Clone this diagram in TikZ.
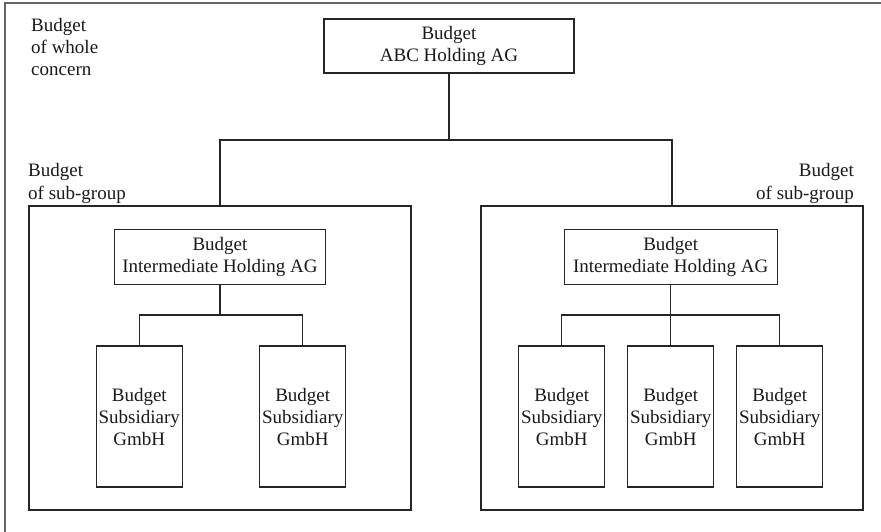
\documentclass[tikz,border=0pt]{standalone}
\usepackage{fontspec}
\setmainfont{Liberation Serif}
\begin{document}
\begin{tikzpicture}[x=1pt,y=-1pt,
  every node/.style={font=\fontsize{19}{22}\selectfont, text=black!90},
  ln/.style={draw=black!85, line width=1.1pt},
  box/.style={ln, rectangle, inner sep=0pt, align=center},
  frame/.style={ln, rectangle, inner sep=0pt},
  lbl/.style={inner sep=0pt, align=left, anchor=base west},
  lblr/.style={inner sep=0pt, align=right, anchor=base east}]
\useasboundingbox (0,0) rectangle (881,532);

% outer boundary of the whole concern
\draw[draw=black!60, line width=1.4pt] (5,532) -- (5,3) -- (881,3);
% multi-line labels sit on the baseline of their last line
\node[lbl] (concern) at (31,76) {Budget\\of whole\\concern};

% top holding
\node[box, minimum width=250pt, minimum height=54pt] (top) at (449,46) {Budget\\ABC Holding AG};

% sub-group frames
\node[frame, minimum width=382pt, minimum height=304pt] (grpL) at (220,358) {};
\node[frame, minimum width=382pt, minimum height=304pt] (grpR) at (672,358) {};
\node[lbl] (lblL) at (28,199) {Budget\\of sub-group};
\node[lblr] (lblR) at (854,199) {Budget\\of sub-group};

% intermediate holdings
\node[box, minimum width=211pt, minimum height=55pt] (intL) at (220,256.8) {Budget\\Intermediate Holding AG};
\node[box, minimum width=213pt, minimum height=55pt] (intR) at (670.7,256.8) {Budget\\Intermediate Holding AG};

% subsidiaries
\tikzset{sub/.style={box, minimum width=86pt, minimum height=141pt}}
\node[sub] (sL1) at (139.3,416.5) {Budget\\Subsidiary\\GmbH};
\node[sub] (sL2) at (302.7,416.5) {Budget\\Subsidiary\\GmbH};
\node[sub] (sR1) at (561.7,416.5) {Budget\\Subsidiary\\GmbH};
\node[sub] (sR2) at (670.7,416.5) {Budget\\Subsidiary\\GmbH};
\node[sub] (sR3) at (779.7,416.5) {Budget\\Subsidiary\\GmbH};

% connector rails
\coordinate (railTop) at (449,140);
\coordinate (railL) at (220,315);
\coordinate (railR) at (670.7,315);

\draw[ln] (top.south) -- (railTop);
\draw[ln] (grpL.north) |- (railTop) -| (grpR.north);

\draw[ln] (intL.south) -- (railL);
\draw[ln] (sL1.north) |- (railL) -| (sL2.north);

\draw[ln] (intR.south) -- (sR2.north);
\draw[ln] (sR1.north) |- (railR) -| (sR3.north);
\end{tikzpicture}
\end{document}
